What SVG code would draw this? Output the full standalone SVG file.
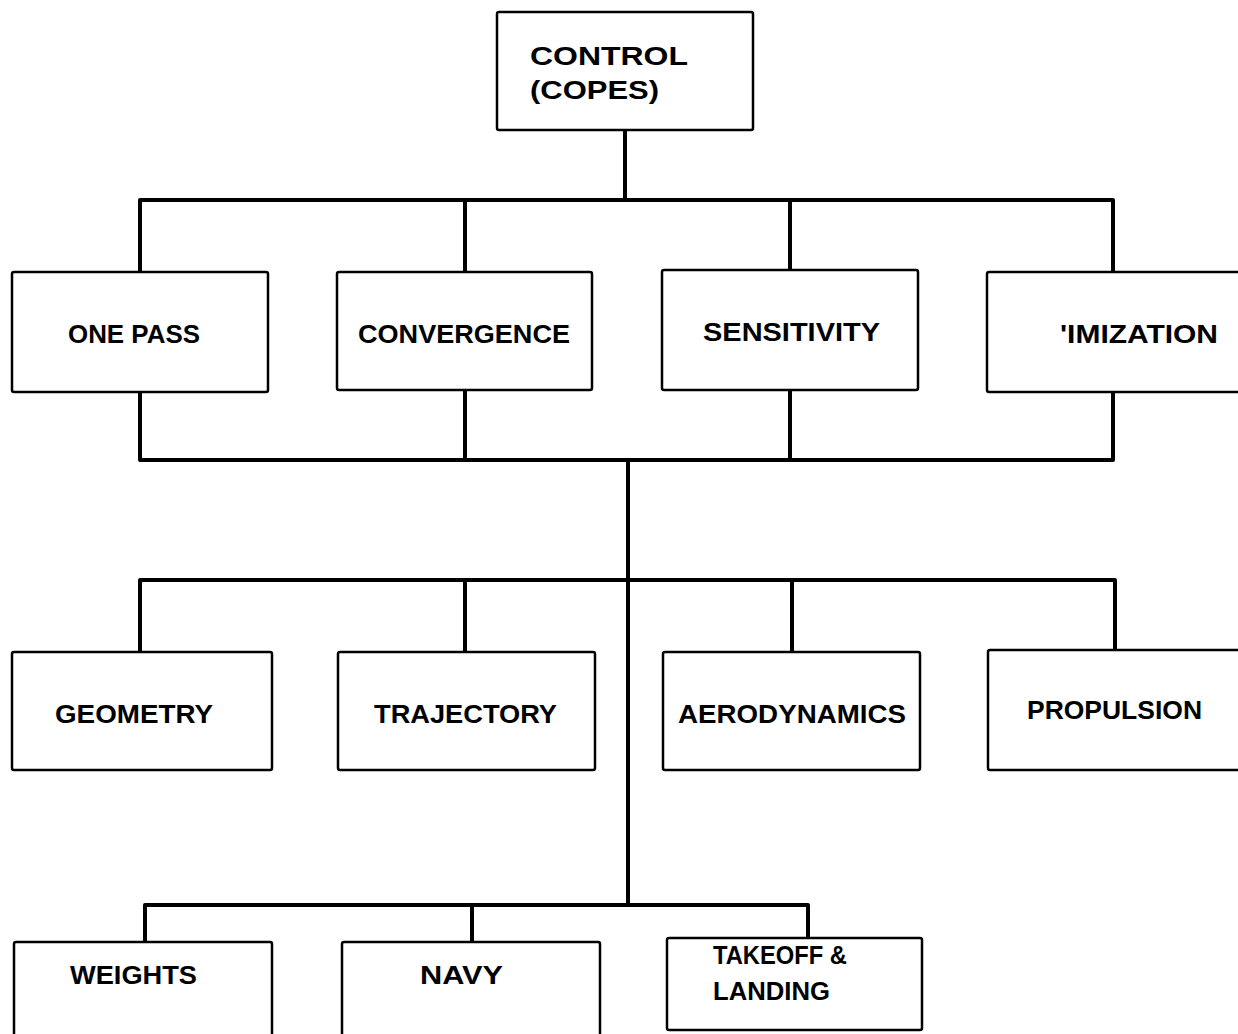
<svg xmlns="http://www.w3.org/2000/svg" width="1238" height="1034" viewBox="0 0 1238 1034">
<style>
.box{fill:#fff;stroke:#000;stroke-width:2.5}
.ln{fill:none;stroke:#000;stroke-width:4;stroke-linejoin:round;stroke-linecap:square}
text{font-family:"Liberation Sans",Arial,sans-serif;font-weight:bold;font-size:26.5px;fill:#000}
</style>
<rect width="1238" height="1034" fill="#fff"/>
<g id="connectors">
<line class="ln" x1="625" y1="130" x2="625" y2="200"/>
<path class="ln" d="M140 272 V200 H1113 V272"/>
<line class="ln" x1="465" y1="200" x2="465" y2="272"/>
<line class="ln" x1="790" y1="200" x2="790" y2="270"/>
<path class="ln" d="M140 392 V460 H1113 V392"/>
<line class="ln" x1="465" y1="390" x2="465" y2="460"/>
<line class="ln" x1="790" y1="390" x2="790" y2="460"/>
<line class="ln" x1="628" y1="460" x2="628" y2="905"/>
<path class="ln" d="M140 652 V580 H1115 V650"/>
<line class="ln" x1="465" y1="580" x2="465" y2="652"/>
<line class="ln" x1="792" y1="580" x2="792" y2="652"/>
<path class="ln" d="M145 942 V905 H808 V938"/>
<line class="ln" x1="472" y1="905" x2="472" y2="942"/>
</g>
<g id="control"><rect class="box" x="497" y="12" width="256" height="118" rx="2"/>
<text x="530" y="65" textLength="158" lengthAdjust="spacingAndGlyphs">CONTROL</text>
<text x="530" y="99" textLength="129" lengthAdjust="spacingAndGlyphs">(COPES)</text></g>
<g id="onepass"><rect class="box" x="12" y="272" width="256" height="120" rx="2"/>
<text x="68" y="343" textLength="132" lengthAdjust="spacingAndGlyphs">ONE PASS</text></g>
<g id="convergence"><rect class="box" x="337" y="272" width="255" height="118" rx="2"/>
<text x="358" y="343" textLength="212" lengthAdjust="spacingAndGlyphs">CONVERGENCE</text></g>
<g id="sensitivity"><rect class="box" x="662" y="270" width="256" height="120" rx="2"/>
<text x="703" y="341" textLength="177" lengthAdjust="spacingAndGlyphs">SENSITIVITY</text></g>
<g id="optimization"><rect class="box" x="987" y="272" width="260" height="120" rx="2"/>
<text x="1060" y="343" textLength="158" lengthAdjust="spacingAndGlyphs">'IMIZATION</text></g>
<g id="geometry"><rect class="box" x="12" y="652" width="260" height="118" rx="2"/>
<text x="55" y="723" textLength="158" lengthAdjust="spacingAndGlyphs">GEOMETRY</text></g>
<g id="trajectory"><rect class="box" x="338" y="652" width="257" height="118" rx="2"/>
<text x="374" y="723" textLength="183" lengthAdjust="spacingAndGlyphs">TRAJECTORY</text></g>
<g id="aerodynamics"><rect class="box" x="663" y="652" width="257" height="118" rx="2"/>
<text x="678" y="723" textLength="228" lengthAdjust="spacingAndGlyphs">AERODYNAMICS</text></g>
<g id="propulsion"><rect class="box" x="988" y="650" width="260" height="120" rx="2"/>
<text x="1027" y="719" textLength="175" lengthAdjust="spacingAndGlyphs">PROPULSION</text></g>
<g id="weights"><rect class="box" x="14" y="942" width="258" height="110" rx="2"/>
<text x="70" y="984" textLength="127" lengthAdjust="spacingAndGlyphs">WEIGHTS</text></g>
<g id="navy"><rect class="box" x="342" y="942" width="258" height="110" rx="2"/>
<text x="420" y="984" textLength="83" lengthAdjust="spacingAndGlyphs">NAVY</text></g>
<g id="takeoff"><rect class="box" x="667" y="938" width="255" height="92" rx="2"/>
<text x="713" y="964" textLength="134" lengthAdjust="spacingAndGlyphs">TAKEOFF &amp;</text>
<text x="713" y="1000" textLength="117" lengthAdjust="spacingAndGlyphs">LANDING</text></g>
</svg>
